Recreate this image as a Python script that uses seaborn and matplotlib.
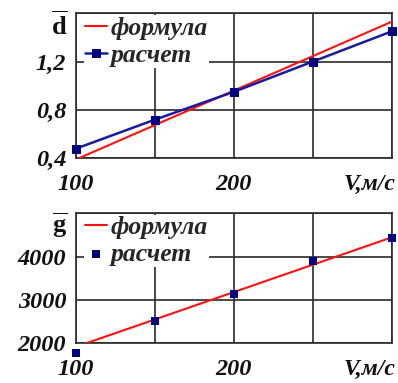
import matplotlib
matplotlib.use("Agg")
import matplotlib.pyplot as plt
import seaborn as sns
import pandas as pd

# ---- data ----
v_calc = [100, 150, 200, 250, 300]
d_calc = [0.48, 0.72, 0.95, 1.20, 1.45]
v_formula = [100, 300]
d_formula = [0.39, 1.53]
g_calc = [1770, 2515, 3140, 3885, 4425]
g_formula = [1920, 4440]

x_ticks = [100, 150, 200, 250, 300]
x_ticklabels = ["100", "", "200", "", ""]
d_ticks = [0.4, 0.8, 1.2, 1.6]
d_ticklabels = ["0,4", "0,8", "1,2", ""]
g_ticks = [2000, 3000, 4000, 5000]
g_ticklabels = ["2000", "3000", "4000", ""]
x_label = "V,м/с"
label_formula = "формула"
label_calc = "расчет"

sns.set_theme(style="white")
plt.rcParams["font.family"] = ["Liberation Serif", "DejaVu Serif"]
plt.rcParams["mathtext.fontset"] = "custom"
plt.rcParams["mathtext.rm"] = "Liberation Serif"
plt.rcParams["mathtext.bf"] = "Liberation Serif:bold"

RED = "#ff1010"
BLUE = "#1a1aa0"
NAVY = "#000080"
GRID = "#2a2a2a"
TXT = "#111111"

fig = plt.figure(figsize=(3.98, 3.83), dpi=100)
ax1 = fig.add_axes([0.191, 0.5867, 0.793, 0.3786])
ax2 = fig.add_axes([0.191, 0.1036, 0.793, 0.340])

df_f1 = pd.DataFrame({"V": v_formula, "y": d_formula})
df_c1 = pd.DataFrame({"V": v_calc, "y": d_calc})
df_f2 = pd.DataFrame({"V": v_formula, "y": g_formula})
df_c2 = pd.DataFrame({"V": v_calc, "y": g_calc})

sns.lineplot(data=df_f1, x="V", y="y", ax=ax1, color=RED, lw=1.5, label=label_formula, zorder=3)
sns.lineplot(data=df_c1, x="V", y="y", ax=ax1, color=BLUE, lw=1.8, marker="s",
             markersize=6, markerfacecolor=NAVY, markeredgecolor=NAVY,
             label=label_calc, zorder=4, clip_on=False)

sns.lineplot(data=df_f2, x="V", y="y", ax=ax2, color=RED, lw=1.5, label=label_formula, zorder=3)
sns.scatterplot(data=df_c2, x="V", y="y", ax=ax2, color=NAVY, marker="s", s=36,
                edgecolor=NAVY, linewidth=0, label=label_calc, zorder=4, clip_on=False)

tick_font = dict(fontsize=17.5, fontweight="bold", fontstyle="italic")

for ax, yt, ytl, ylim, sym, dy in [
    (ax1, d_ticks, d_ticklabels, (0.4, 1.6), r"$\overline{\mathbf{d}}$", 0.985),
    (ax2, g_ticks, g_ticklabels, (2000, 5000), r"$\overline{\mathbf{g}}$", 0.985),
]:
    ax.set_xlim(100, 300)
    ax.set_ylim(*ylim)
    ax.set_xticks(x_ticks)
    ax.set_xticklabels(x_ticklabels, **tick_font)
    ax.set_yticks(yt)
    ax.set_yticklabels(ytl, **tick_font)
    ax.grid(True, color=GRID, lw=1.2)
    for s in ax.spines.values():
        s.set_color(GRID)
        s.set_linewidth(1.2)
    ax.tick_params(axis="both", direction="out", length=3, width=1.2, color=GRID,
                   labelcolor=TXT)
    ax.tick_params(axis="x", pad=8)
    ax.tick_params(axis="y", pad=4)
    ax.set_xlabel("")
    ax.set_ylabel("")
    ax.annotate(sym, xy=(0, 1), xycoords="axes fraction", xytext=(-12, -9),
                textcoords="offset points", ha="center", va="center",
                fontsize=19, color=TXT)
    ax.annotate(x_label, xy=(1, 0), xycoords="axes fraction", xytext=(3, -19),
                textcoords="offset points", ha="right", va="center",
                fontsize=17, fontweight="bold", fontstyle="italic", color=TXT)
    leg = ax.legend(loc="upper left", bbox_to_anchor=(0.025, dy),
                    frameon=True, fancybox=False, framealpha=1,
                    facecolor="white", edgecolor="none", borderaxespad=0.0,
                    handlelength=0.85, handletextpad=0.15, labelspacing=0.15,
                    borderpad=0.05,
                    prop=dict(family="Liberation Serif", size=18.5, weight="bold", style="italic"))
    leg.set_zorder(10)

fig.savefig("out.png", dpi=100)
